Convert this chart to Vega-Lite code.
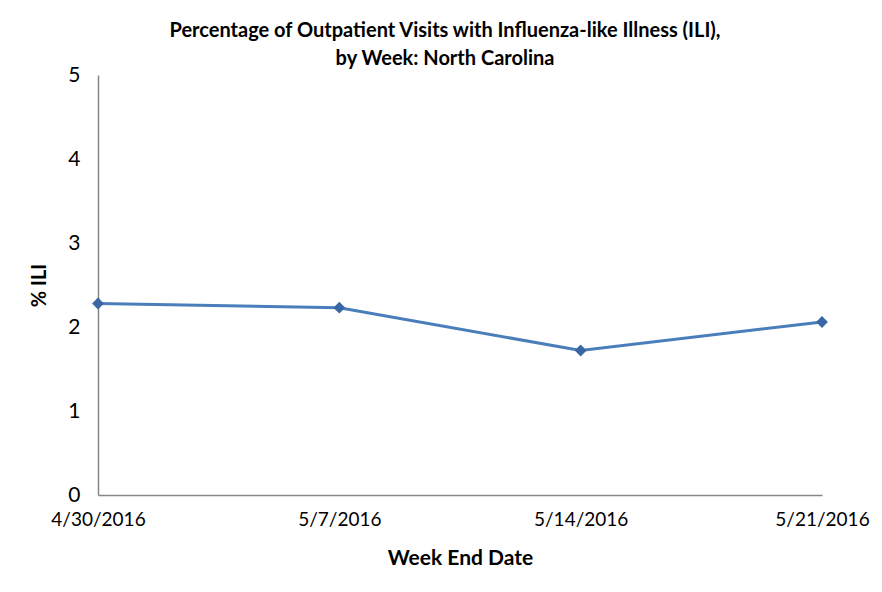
{
  "$schema": "https://vega.github.io/schema/vega-lite/v6.json",
  "width": 724,
  "height": 420,
  "autosize": {"type": "none"},
  "padding": {"left": 98, "top": 75, "right": 60, "bottom": 97},
  "background": "white",
  "config": {"view": {"stroke": null}, "font": "Lato"},
  "title": {
    "text": ["Percentage of Outpatient Visits with Influenza-like Illness (ILI),", "by Week:  North Carolina"],
    "font": "Lato",
    "fontSize": 20,
    "fontWeight": "bold",
    "color": "#000000",
    "lineHeight": 28,
    "anchor": "middle",
    "frame": "group",
    "dx": -15,
    "offset": -5
  },
  "data": {
    "values": [
      {"week": "4/30/2016", "ili": 2.28},
      {"week": "5/7/2016", "ili": 2.23},
      {"week": "5/14/2016", "ili": 1.72},
      {"week": "5/21/2016", "ili": 2.06}
    ]
  },
  "encoding": {
    "x": {
      "field": "week",
      "type": "ordinal",
      "sort": null,
      "scale": {"type": "point", "padding": 0},
      "axis": {
        "title": "Week End Date",
        "titleFont": "Lato",
        "titleFontSize": 21,
        "titleFontWeight": "bold",
        "titleColor": "#000000",
        "titlePadding": 18,
        "labelFont": "Lato",
        "labelFontSize": 19,
        "labelColor": "#000000",
        "labelAngle": 0,
        "labelPadding": 15,
        "ticks": false,
        "domainColor": "#868686",
        "domainWidth": 1.5,
        "grid": false
      }
    },
    "y": {
      "field": "ili",
      "type": "quantitative",
      "scale": {"domain": [0, 5], "nice": false},
      "axis": {
        "title": "% ILI",
        "titleFont": "Lato",
        "titleFontSize": 20,
        "titleFontWeight": "bold",
        "titleColor": "#000000",
        "titlePadding": 18,
        "labelFont": "Lato",
        "labelFontSize": 21,
        "labelColor": "#000000",
        "labelPadding": 18,
        "values": [0, 1, 2, 3, 4, 5],
        "ticks": false,
        "grid": false,
        "domainColor": "#868686",
        "domainWidth": 1.5
      }
    }
  },
  "layer": [
    {"mark": {"type": "line", "color": "#4a7ebb", "strokeWidth": 3}},
    {"mark": {"type": "point", "shape": "diamond", "filled": true, "size": 140, "color": "#3a67a4", "opacity": 1}}
  ]
}
